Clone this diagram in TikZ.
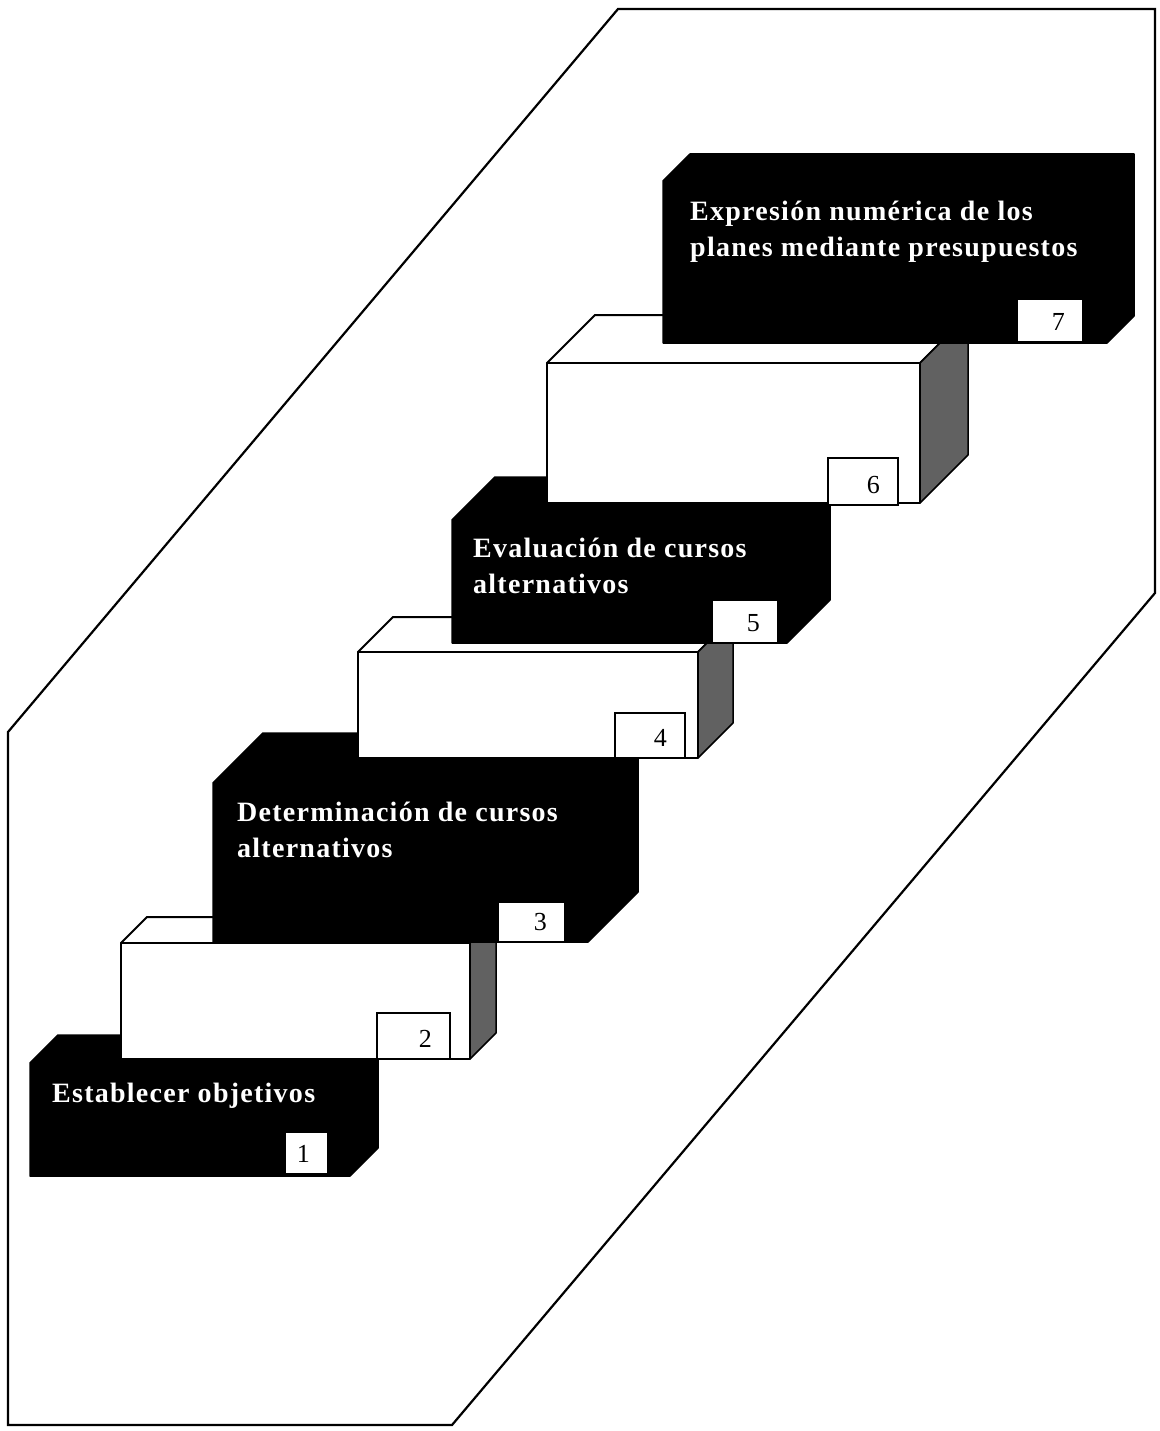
\documentclass[tikz,border=0pt]{standalone}
\usepackage{fontspec}
\setmainfont{Liberation Serif}
\newfontfamily\stepfont[LetterSpace=4.5]{Liberation Serif}
\tikzset{
  frameline/.style={draw=black, line width=2.2pt, line join=miter},
  darkblock/.style={fill=black, draw=black, line width=1.5pt, line join=round},
  whiteface/.style={fill=white, draw=black, line width=2pt, line join=round},
  sideface/.style={fill=black!62, draw=black, line width=1.5pt, line join=round},
  numbox/.style={draw=black, fill=white, line width=1.3pt},
  digit/.style={font=\fontsize{26}{30}\selectfont, inner sep=0pt},
  steptext/.style={text=white, font=\stepfont\bfseries\fontsize{28}{36}\selectfont, align=left, inner sep=0pt},
}
\newcommand\blackstep[5]{%
  \path[darkblock] (#1,#2) -- (#1,#4) -- (#3,#4) -- ({#3+#5},{#4-#5}) -- ({#3+#5},{#2-#5}) -- ({#1+#5},{#2-#5}) -- cycle;}
\newcommand\whitestep[5]{%
  \path[whiteface] (#1,#2) -- ({#1+#5},{#2-#5}) -- ({#3+#5},{#2-#5}) -- (#3,#2) -- cycle;
  \path[sideface] (#3,#2) -- ({#3+#5},{#2-#5}) -- ({#3+#5},{#4-#5}) -- (#3,#4) -- cycle;
  \path[whiteface] (#1,#2) rectangle (#3,#4);}
\newcommand\numtag[6]{%
  \path[numbox] (#2,#3) rectangle (#4,#5);
  \node[digit, anchor=base east] (#1) at ({#4-18},{#5-12}) {#6};}
\begin{document}
\begin{tikzpicture}[x=1pt,y=-1pt]
\useasboundingbox (0,0) rectangle (1159,1431);
% outer frame
\draw[frameline] (618,9) -- (1155,9) -- (1155,593) -- (452,1425) -- (8,1425) -- (8,732) -- cycle;
% step 1
\blackstep{30}{1063}{350}{1176}{28}
\node[steptext, anchor=base west] (t1) at (52,1102) {Establecer objetivos};
\numtag{n1}{285}{1132}{328}{1174}{1}
% step 2
\whitestep{121}{943}{470}{1059}{26}
\numtag{n2}{377}{1013}{450}{1059}{2}
% step 3
\blackstep{213}{783}{588}{942}{50}
\node[steptext, anchor=base west] (t3) at (237,857) {Determinación de cursos\\alternativos};
\numtag{n3}{498}{902}{565}{942}{3}
% step 4
\whitestep{358}{652}{698}{758}{35}
\numtag{n4}{615}{713}{685}{758}{4}
% step 5
\blackstep{452}{520}{787}{643}{43}
\node[steptext, anchor=base west] (t5) at (473,593) {Evaluación de cursos\\alternativos};
\numtag{n5}{712}{600}{778}{643}{5}
% step 6
\whitestep{547}{363}{920}{503}{48}
\numtag{n6}{828}{458}{898}{505}{6}
% step 7
\blackstep{663}{181}{1107}{343}{27}
\node[steptext, anchor=base west] (t7) at (690,257) {Expresión numérica de los\\planes mediante presupuestos};
\numtag{n7}{1017}{299}{1083}{342}{7}
\end{tikzpicture}
\end{document}
